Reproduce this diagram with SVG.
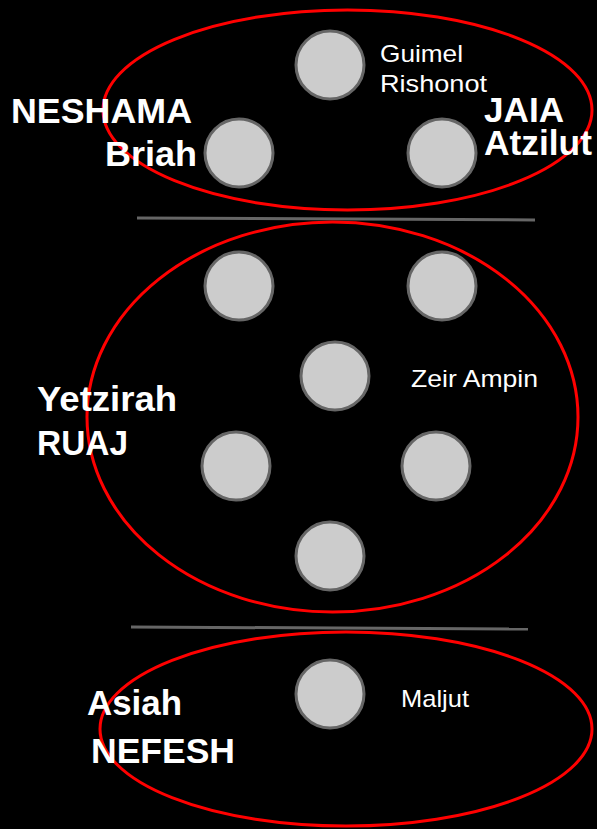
<svg xmlns="http://www.w3.org/2000/svg" width="597" height="829" viewBox="0 0 597 829">
<style>
.bg{fill:#000}
.world{fill:none;stroke:#ff0000;stroke-width:3}
.sep{stroke:#666;stroke-width:3}
.sef{fill:#cccccc;stroke:#666666;stroke-width:3}
.b{font-family:"Liberation Sans",Arial,sans-serif;font-weight:bold;font-size:35px;fill:#fff}
.r{font-family:"Liberation Sans",Arial,sans-serif;font-size:24px;fill:#fff}
</style>
<rect class="bg" x="0" y="0" width="597" height="829"/>
<g id="connectors">
<line class="sep" x1="137" y1="218" x2="535" y2="220"/>
<line class="sep" x1="131" y1="627" x2="528" y2="629"/>
</g>
<g id="atzilut-briah">
<ellipse class="world" cx="347.5" cy="110" rx="244.5" ry="100"/>
<circle class="sef" cx="330" cy="65" r="34"/>
<circle class="sef" cx="239" cy="153" r="34"/>
<circle class="sef" cx="442" cy="153" r="34"/>
<text class="r" x="380" y="62" textLength="83" lengthAdjust="spacingAndGlyphs">Guimel</text>
<text class="r" x="380" y="92" textLength="107" lengthAdjust="spacingAndGlyphs">Rishonot</text>
<text class="b" x="11" y="123" textLength="181" lengthAdjust="spacingAndGlyphs">NESHAMA</text>
<text class="b" x="105" y="166" textLength="92" lengthAdjust="spacingAndGlyphs">Briah</text>
<text class="b" x="484" y="122" textLength="80" lengthAdjust="spacingAndGlyphs">JAIA</text>
<text class="b" x="484" y="155" textLength="108" lengthAdjust="spacingAndGlyphs">Atzilut</text>
</g>
<g id="yetzirah">
<ellipse class="world" cx="332.5" cy="417" rx="245.5" ry="195"/>
<circle class="sef" cx="239" cy="286" r="34"/>
<circle class="sef" cx="442" cy="286" r="34"/>
<circle class="sef" cx="335" cy="376" r="34"/>
<circle class="sef" cx="236" cy="466" r="34"/>
<circle class="sef" cx="436" cy="466" r="34"/>
<circle class="sef" cx="330" cy="556" r="34"/>
<text class="r" x="411" y="387" textLength="127" lengthAdjust="spacingAndGlyphs">Zeir Ampin</text>
<text class="b" x="37" y="411" textLength="140" lengthAdjust="spacingAndGlyphs">Yetzirah</text>
<text class="b" x="37" y="455" textLength="91" lengthAdjust="spacingAndGlyphs">RUAJ</text>
</g>
<g id="asiah">
<ellipse class="world" cx="346" cy="729" rx="246" ry="97"/>
<circle class="sef" cx="330" cy="694" r="34"/>
<text class="r" x="401" y="707" textLength="68" lengthAdjust="spacingAndGlyphs">Maljut</text>
<text class="b" x="87" y="715" textLength="95" lengthAdjust="spacingAndGlyphs">Asiah</text>
<text class="b" x="91" y="763" textLength="144" lengthAdjust="spacingAndGlyphs">NEFESH</text>
</g>
</svg>
